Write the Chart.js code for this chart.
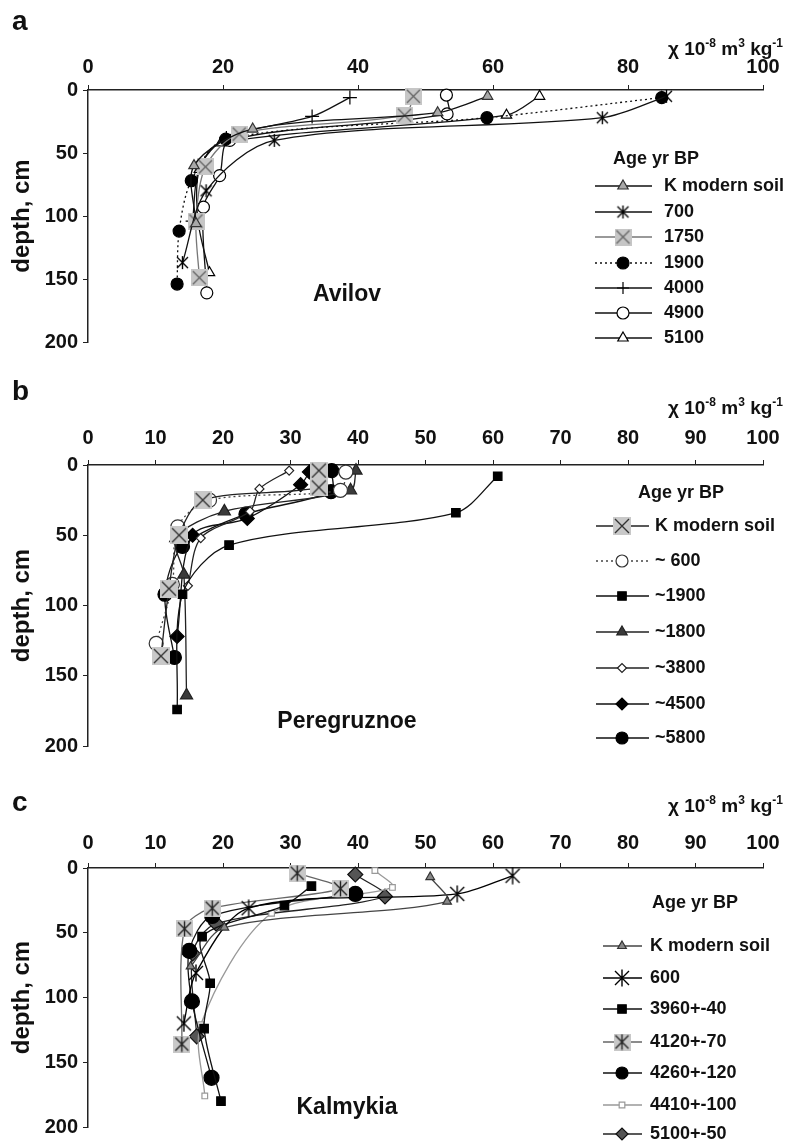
<!DOCTYPE html>
<html>
<head>
<meta charset="utf-8">
<script src="https://cdn.jsdelivr.net/npm/chart.js@4.4.1/dist/chart.umd.min.js"></script>
<style>
  body { margin: 0; background: #fff; width: 791px; height: 1144px; position: relative; overflow: hidden; }
  .panel { position: absolute; left: 0; width: 791px; }
</style>
</head>
<body>
<div class="panel" style="top:0;height:365px"><canvas id="chartA"></canvas></div>
<div class="panel" style="top:365px;height:398px"><canvas id="chartB"></canvas></div>
<div class="panel" style="top:763px;height:381px"><canvas id="chartC"></canvas></div>
<script>
// ---- data: chi (10^-8 m3/kg) against depth (cm), one row per profile ----
const avilovLabels = ['K modern soil', '700', '1750', '1900', '4000', '4900', '5100'];
const avilovChi = [
  [59.2, 51.8, 24.4, 15.7, 16.0],
  [85.7, 76.2, 27.6, 17.5, 14.0],
  [48.2, 46.9, 22.4, 17.4, 16.0, 16.5],
  [85.0, 59.1, 20.4, 15.3, 13.5, 13.2],
  [38.8, 33.2, 20.5, 16.5, 15.5],
  [53.1, 53.2, 21.0, 19.5, 17.1, 17.6],
  [66.9, 62.0, 19.7, 16.5, 16.3, 18.0]
];
const avilovDepth = [
  [5, 18, 31, 60, 106],
  [5, 22, 40, 80, 137],
  [5, 20, 35, 61, 104, 149],
  [6, 22, 39, 72, 112, 154],
  [6, 21, 38, 62, 104],
  [4, 19, 40, 68, 93, 161],
  [5, 20, 42, 63, 104, 145]
];

const peregLabels = ['K modern soil', '~ 600', '~1900', '~1800', '~3800', '~4500', '~5800'];
const peregChi = [
  [34.2, 34.2, 17.0, 13.5, 12.0, 10.8],
  [38.2, 37.4, 18.0, 13.3, 12.5, 10.1],
  [60.7, 54.5, 20.9, 14.0, 13.2],
  [39.7, 38.9, 20.2, 13.0, 14.2, 14.6],
  [29.8, 25.4, 24.0, 16.7, 14.8],
  [32.8, 31.5, 23.6, 15.5, 13.2],
  [36.1, 36.0, 23.4, 14.0, 11.4, 12.8]
];
const peregDepth = [
  [4, 16, 25, 50, 88, 136],
  [5, 18, 25, 44, 85, 127],
  [8, 34, 57, 92, 174],
  [4, 18, 33, 52, 78, 164],
  [4, 17, 33, 52, 86],
  [5, 14, 38, 50, 122],
  [4, 19, 35, 58, 92, 137]
];

const kalmLabels = ['K modern soil', '600', '3960+-40', '4120+-70', '4260+-120', '4410+-100', '5100+-50'];
const kalmChi = [
  [50.7, 53.2, 20.2, 15.2],
  [62.9, 54.7, 23.8, 16.0, 14.2],
  [33.1, 29.1, 16.9, 18.1, 17.2, 19.7],
  [31.0, 37.4, 18.4, 14.3, 13.9],
  [39.6, 18.4, 15.0, 15.4, 18.3],
  [42.5, 45.1, 27.2, 16.7, 17.3],
  [39.6, 44.0, 19.0, 15.5, 16.1]
];
const kalmDepth = [
  [7, 26, 46, 76],
  [6, 20, 31, 81, 120],
  [14, 29, 53, 89, 124, 180],
  [4, 16, 31, 47, 136],
  [20, 37, 64, 103, 162],
  [2, 15, 35, 121, 176],
  [5, 22, 43, 66, 130]
];

const FONT = '"Liberation Sans", Arial, Helvetica, sans-serif';

// composite markers drawn on small canvases
function marker(kind, size, box, ink) {
  const c = document.createElement('canvas');
  c.width = size; c.height = size;
  const g = c.getContext('2d');
  const m = size / 2, r = size / 2 - 2;
  if (box) { g.fillStyle = box; g.fillRect(0, 0, size, size); }
  g.strokeStyle = ink;
  g.lineWidth = 1.4;
  g.beginPath();
  g.moveTo(m - r, m - r); g.lineTo(m + r, m + r);
  g.moveTo(m + r, m - r); g.lineTo(m - r, m + r);
  if (kind === 'star') { g.moveTo(m, m - r * 1.2); g.lineTo(m, m + r * 1.2); }
  g.stroke();
  return c;
}

const avilovStyles = [
  { pointStyle: 'triangle', pointRadius: 6, pointBackgroundColor: '#a8a8a8', pointBorderColor: '#333', borderColor: '#111' },
  { pointStyle: marker('star', 15, null, '#000'), borderColor: '#111' },
  { pointStyle: marker('x', 17, '#c6c6c6', '#666'), borderColor: '#777' },
  { pointStyle: 'circle', pointRadius: 6, pointBackgroundColor: '#000', pointBorderColor: '#000', borderColor: '#111', borderDash: [2, 3] },
  { pointStyle: 'cross', pointRadius: 7, pointBorderColor: '#000', borderColor: '#111' },
  { pointStyle: 'circle', pointRadius: 6, pointBackgroundColor: '#fff', pointBorderColor: '#000', borderColor: '#111' },
  { pointStyle: 'triangle', pointRadius: 6, pointBackgroundColor: '#fff', pointBorderColor: '#000', borderColor: '#111' }
];
const peregStyles = [
  { pointStyle: marker('x', 18, '#c8c8c8', '#333'), borderColor: '#222' },
  { pointStyle: 'circle', pointRadius: 7, pointBackgroundColor: '#fff', pointBorderColor: '#333', borderColor: '#444', borderDash: [2, 3] },
  { pointStyle: 'rect', pointRadius: 6, pointBackgroundColor: '#000', pointBorderColor: '#000', borderColor: '#111' },
  { pointStyle: 'triangle', pointRadius: 7, pointBackgroundColor: '#3a3a3a', pointBorderColor: '#222', borderColor: '#222' },
  { pointStyle: 'rectRot', pointRadius: 4.5, pointBackgroundColor: '#fff', pointBorderColor: '#222', borderColor: '#222' },
  { pointStyle: 'rectRot', pointRadius: 7, pointBackgroundColor: '#000', pointBorderColor: '#000', borderColor: '#111' },
  { pointStyle: 'circle', pointRadius: 7, pointBackgroundColor: '#000', pointBorderColor: '#000', borderColor: '#111' }
];
const kalmStyles = [
  { pointStyle: 'triangle', pointRadius: 5, pointBackgroundColor: '#888', pointBorderColor: '#333', borderColor: '#444' },
  { pointStyle: marker('star', 18, null, '#000'), borderColor: '#000' },
  { pointStyle: 'rect', pointRadius: 6, pointBackgroundColor: '#000', pointBorderColor: '#000', borderColor: '#111' },
  { pointStyle: marker('star', 17, '#c8c8c8', '#222'), borderColor: '#666' },
  { pointStyle: 'circle', pointRadius: 7.5, pointBackgroundColor: '#000', pointBorderColor: '#000', borderColor: '#111' },
  { pointStyle: 'rect', pointRadius: 4, pointBackgroundColor: '#fff', pointBorderColor: '#999', borderColor: '#999' },
  { pointStyle: 'rectRot', pointRadius: 7.5, pointBackgroundColor: '#555', pointBorderColor: '#111', borderColor: '#222' }
];

// writes "χ 10^-8 m^3 kg^-1" with raised exponents
function drawChi(ctx, x, y) {
  const parts = [['\u03c7 10', 0], ['-8', 1], [' m', 0], ['3', 1], [' kg', 0], ['-1', 1]];
  ctx.textAlign = 'left';
  ctx.textBaseline = 'alphabetic';
  parts.forEach(p => {
    ctx.font = p[1] ? `bold 12px ${FONT}` : `bold 19px ${FONT}`;
    ctx.fillText(p[0], x, p[1] ? y - 8 : y);
    x += ctx.measureText(p[0]).width;
  });
}

function decor(cfg) {
  return {
    id: 'decor',
    afterDraw(chart) {
      const ctx = chart.ctx;
      const off = cfg.top;
      ctx.save();
      ctx.fillStyle = '#111';
      ctx.font = `bold 28px ${FONT}`;
      ctx.textAlign = 'left';
      ctx.textBaseline = 'middle';
      ctx.fillText(cfg.letter, 12, cfg.letterY - off);
      drawChi(ctx, 668, cfg.chiY - off);

      ctx.font = `bold 23px ${FONT}`;
      ctx.textAlign = 'center';
      ctx.textBaseline = 'middle';
      ctx.fillText(cfg.site, 347, cfg.siteY - off);

      // legend
      const lg = cfg.legend;
      ctx.font = `bold 18px ${FONT}`;
      ctx.textAlign = 'left';
      ctx.fillText('Age yr BP', lg.titleX, lg.titleY - off);
      chart.data.datasets.forEach((ds, i) => {
        const y = lg.rows[i] - off;
        ctx.save();
        ctx.strokeStyle = ds.borderColor;
        ctx.lineWidth = 1.3;
        ctx.setLineDash(ds.borderDash || []);
        ctx.beginPath();
        ctx.moveTo(lg.x0, y); ctx.lineTo(lg.x1, y);
        ctx.stroke();
        ctx.setLineDash([]);
        ctx.fillStyle = ds.pointBackgroundColor || '#000';
        ctx.strokeStyle = ds.pointBorderColor || '#000';
        ctx.lineWidth = 1.2;
        const r = typeof ds.pointStyle === 'string' ? Math.min(ds.pointRadius || 5, 6) : 0;
        Chart.helpers.drawPoint(ctx, { pointStyle: ds.pointStyle, radius: r, borderWidth: 1.2, rotation: 0 }, lg.mx, y);
        ctx.restore();
        ctx.fillStyle = '#111';
        ctx.font = `bold 18px ${FONT}`;
        ctx.textBaseline = 'middle';
        ctx.fillText(ds.label, lg.tx, y);
      });
      ctx.restore();
    }
  };
}

function makeChart(id, labels, chi, depth, styles, cfg) {
  const datasets = labels.map((label, i) => Object.assign({
    label: label,
    data: chi[i].map((x, j) => ({ x: x, y: depth[i][j] })),
    showLine: true,
    tension: 0.3,
    borderWidth: 1.3,
    pointBorderWidth: 1.2,
    pointRadius: 6,
    clip: false
  }, styles[i]));

  return new Chart(document.getElementById(id), {
    type: 'scatter',
    data: { datasets: datasets },
    options: {
      responsive: true,
      maintainAspectRatio: false,
      animation: false,
      layout: { padding: { left: 0, right: 28, top: cfg.padTop, bottom: cfg.padBottom } },
      plugins: { legend: { display: false }, tooltip: { enabled: false } },
      scales: {
        x: {
          type: 'linear', position: 'top', min: 0, max: 100,
          ticks: { stepSize: cfg.step, color: '#111', padding: cfg.tickPad, font: { family: FONT, weight: 'bold', size: 20 } },
          grid: { drawOnChartArea: false, drawTicks: true, tickLength: 5, color: '#222' },
          border: { color: '#222', width: 1.5 },
          afterFit: s => { s.height = 40; }
        },
        y: {
          type: 'linear', reverse: true, min: 0, max: 200,
          ticks: { stepSize: 50, color: '#111', padding: 5, font: { family: FONT, weight: 'bold', size: 20 } },
          grid: { drawOnChartArea: false, drawTicks: true, tickLength: 5, color: '#222' },
          border: { color: '#222', width: 1.5 },
          title: { display: true, text: 'depth, cm', color: '#111', padding: { top: 8, bottom: 0 }, font: { family: FONT, weight: 'bold', size: 24 } },
          afterFit: s => { s.width = 88; }
        }
      }
    },
    plugins: [decor(cfg)]
  });
}

makeChart('chartA', avilovLabels, avilovChi, avilovDepth, avilovStyles, {
  top: 0, padTop: 50, padBottom: 23, step: 20, tickPad: 6,
  letter: 'a', letterY: 22, chiY: 55, site: 'Avilov', siteY: 295,
  legend: { titleX: 613, titleY: 159, x0: 595, x1: 652, mx: 623, tx: 664, rows: [186, 212, 237, 263, 288, 313, 338] }
});
makeChart('chartB', peregLabels, peregChi, peregDepth, peregStyles, {
  top: 365, padTop: 60, padBottom: 15, step: 10, tickPad: 10,
  letter: 'b', letterY: 392, chiY: 414, site: 'Peregruznoe', siteY: 722,
  legend: { titleX: 638, titleY: 493, x0: 596, x1: 649, mx: 622, tx: 655, rows: [526, 561, 596, 632, 668, 704, 738] }
});
makeChart('chartC', kalmLabels, kalmChi, kalmDepth, kalmStyles, {
  top: 763, padTop: 65, padBottom: 12, step: 10, tickPad: 8,
  letter: 'c', letterY: 803, chiY: 812, site: 'Kalmykia', siteY: 1108,
  legend: { titleX: 652, titleY: 903, x0: 603, x1: 642, mx: 622, tx: 650, rows: [946, 978, 1009, 1042, 1073, 1105, 1134] }
});
</script>
</body>
</html>
